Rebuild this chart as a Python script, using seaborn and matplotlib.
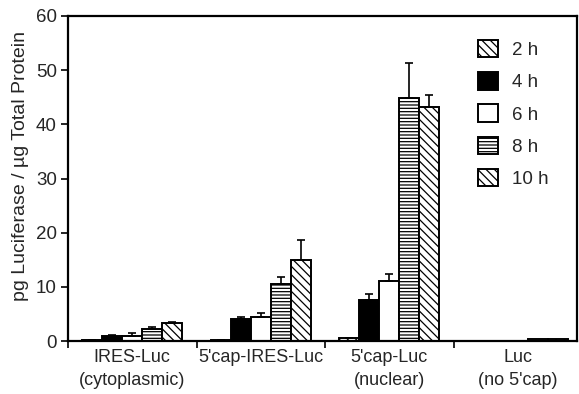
import numpy as np
import pandas as pd
import matplotlib
matplotlib.use("Agg")
import matplotlib.pyplot as plt
import seaborn as sns

categories = ["IRES-Luc\n(cytoplasmic)", "5'cap-IRES-Luc", "5'cap-Luc\n(nuclear)", "Luc\n(no 5'cap)"]
times = ["2 h", "4 h", "6 h", "8 h", "10 h"]
# values per time point, across the four constructs
v_2h = [0.2, 0.2, 0.5, 0.0]
v_4h = [0.9, 4.0, 7.5, 0.0]
v_6h = [1.0, 4.5, 11.0, 0.0]
v_8h = [2.2, 10.5, 44.8, 0.3]
v_10h = [3.3, 14.9, 43.2, 0.3]
e_2h = [0.05, 0.05, 0.1, 0.0]
e_4h = [0.3, 0.5, 1.1, 0.0]
e_6h = [0.5, 0.6, 1.3, 0.0]
e_8h = [0.3, 1.4, 6.5, 0.0]
e_10h = [0.2, 3.7, 2.2, 0.0]
ylabel = "pg Luciferase / µg Total Protein"

values = [v_2h, v_4h, v_6h, v_8h, v_10h]
errors = [e_2h, e_4h, e_6h, e_8h, e_10h]

rows = []
for t, vals in zip(times, values):
    for c, v in zip(categories, vals):
        rows.append({"construct": c, "time": t, "value": v})
df = pd.DataFrame(rows)

sns.set_style("white")
plt.rcParams["font.family"] = ["Liberation Sans", "DejaVu Sans"]
plt.rcParams["hatch.linewidth"] = 0.9

fig = plt.figure(figsize=(5.79, 3.94), dpi=100)
ax = fig.add_axes([68 / 579, 53 / 394, (577 - 68) / 579, (341 - 16) / 394])

face = ["white", "black", "white", "white", "white"]
hatches = ["\\\\\\\\", "", "", "-----", "\\\\\\\\"]

sns.barplot(data=df, x="construct", y="value", hue="time", order=categories,
            hue_order=times, palette=face, width=0.78, errorbar=None,
            edgecolor="black", linewidth=1.4, legend=False, ax=ax, saturation=1)

for cont, h, errs in zip(ax.containers, hatches, errors):
    xs, tops = [], []
    for p in cont.patches:
        p.set_hatch(h)
        p.set_edgecolor("black")
        xs.append(p.get_x() + p.get_width() / 2)
        tops.append(p.get_height())
    errs = np.array(errs)
    mask = errs > 0
    ax.errorbar(np.array(xs)[mask], np.array(tops)[mask],
                yerr=[np.zeros(mask.sum()), errs[mask]],
                fmt="none", ecolor="black", elinewidth=1.2, capsize=3, capthick=1.2, zorder=3)

ax.set_ylim(0, 60)
ax.set_xlim(-0.5, 3.46)
ax.set_yticks(np.arange(0, 61, 10))
ax.set_xticks([-0.5, 0.5, 1.5, 2.5])
ax.set_xticklabels([])
ax.set_xticks(range(len(categories)), minor=True)
ax.set_xticklabels(categories, minor=True, linespacing=1.4)
ax.tick_params(axis="x", which="major", direction="out", length=5, width=1.2, bottom=True, color="black")
ax.tick_params(axis="x", which="minor", length=0, pad=6, labelsize=13)
ax.tick_params(axis="y", direction="out", length=5, width=1.2, left=True, labelsize=13.5, pad=3, color="black")
ax.set_xlabel("")
ax.set_ylabel(ylabel, fontsize=14)
ax.yaxis.set_label_coords(-0.076, 0.537)
for s in ax.spines.values():
    s.set_visible(True)
    s.set_color("black")
    s.set_linewidth(1.6)

ax.legend(handles=ax.containers, labels=times, loc="upper left",
          bbox_to_anchor=(478 / 579, 1 - 40 / 394), bbox_transform=fig.transFigure,
          frameon=False, fontsize=13.5, handlelength=1.05, handleheight=1.05,
          handletextpad=0.75, labelspacing=0.7, borderpad=0, borderaxespad=0)

fig.savefig("out.png", dpi=100)
